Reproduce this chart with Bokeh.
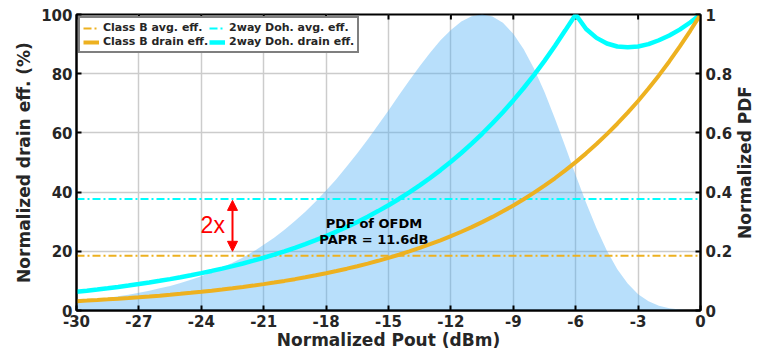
import math
from bokeh.plotting import figure
from bokeh.models import (Range1d, LinearAxis, FixedTicker, Legend, LegendItem,
                          Arrow, NormalHead, Label)
from bokeh.embed import file_html
from bokeh.resources import INLINE

# ---------------- data ----------------
pout_db = [-30, -29.5, -29, -28.5, -28, -27.5, -27, -26.5, -26, -25.5, -25, -24.5,
           -24, -23.5, -23, -22.5, -22, -21.5, -21, -20.5, -20, -19.5, -19, -18.5,
           -18, -17.5, -17, -16.5, -16, -15.5, -15, -14.5, -14, -13.5, -13, -12.5,
           -12, -11.5, -11, -10.5, -10, -9.5, -9, -8.5, -8, -7.5, -7, -6.5,
           -6, -5.5, -5, -4.5, -4, -3.5, -3, -2.5, -2, -1.5, -1, -0.5, 0]

classb_drain_eff = [3.16, 3.35, 3.55, 3.76, 3.98, 4.22, 4.47, 4.73, 5.01, 5.31, 5.62, 5.96,
                    6.31, 6.68, 7.08, 7.50, 7.94, 8.41, 8.91, 9.44, 10.0, 10.59, 11.22, 11.89,
                    12.59, 13.34, 14.13, 14.96, 15.85, 16.79, 17.78, 18.84, 19.95, 21.13, 22.39, 23.71,
                    25.12, 26.61, 28.18, 29.85, 31.62, 33.50, 35.48, 37.58, 39.81, 42.17, 44.67, 47.32,
                    50.12, 53.09, 56.23, 59.57, 63.10, 66.83, 70.79, 74.99, 79.43, 84.14, 89.13, 94.41, 100]

doherty_drain_eff = [6.32, 6.70, 7.10, 7.52, 7.96, 8.43, 8.93, 9.46, 10.02, 10.61, 11.25, 11.91,
                     12.62, 13.37, 14.16, 15.00, 15.89, 16.83, 17.83, 18.88, 20.0, 21.19, 22.44, 23.77,
                     25.18, 26.67, 28.25, 29.93, 31.70, 33.58, 35.57, 37.68, 39.91, 42.27, 44.77, 47.43,
                     50.24, 53.22, 56.37, 59.71, 63.25, 67.0, 70.97, 75.17, 79.62, 84.34, 89.34, 94.64,
                     100, 95.1, 92.1, 90.2, 89.2, 88.9, 89.2, 90.0, 91.3, 92.9, 94.9, 97.3, 100]

ofdm_pdf = [0.030, 0.034, 0.038, 0.042, 0.048, 0.053, 0.060, 0.067, 0.075, 0.083, 0.093, 0.104,
            0.116, 0.130, 0.145, 0.161, 0.179, 0.199, 0.222, 0.246, 0.273, 0.302, 0.334, 0.368,
            0.405, 0.444, 0.487, 0.531, 0.578, 0.627, 0.676, 0.727, 0.777, 0.825, 0.871, 0.913,
            0.948, 0.976, 0.994, 1.0, 0.993, 0.972, 0.935, 0.883, 0.817, 0.738, 0.649, 0.554,
            0.457, 0.364, 0.278, 0.202, 0.139, 0.091, 0.055, 0.031, 0.016, 0.008, 0.003, 0.001, 0.0004]

classb_avg_eff = 18.5
doherty_avg_eff = 37.7

x_ticks = [-30, -27, -24, -21, -18, -15, -12, -9, -6, -3, 0]
x_tick_labels = ["-30", "-27", "-24", "-21", "-18", "-15", "-12", "-9", "-6", "-3", "0"]
y_ticks = [0, 20, 40, 60, 80, 100]
pdf_ticks = [0, 0.2, 0.4, 0.6, 0.8, 1]
pdf_tick_labels = ["0", "0.2", "0.4", "0.6", "0.8", "1"]

legend_labels = ["Class B avg. eff.", "Class B drain eff.",
                 "2way Doh. avg. eff.", "2way Doh. drain eff."]

# ---------------- styles ----------------
ORANGE = "#EDB120"
CYAN = "#00FFFF"
FONT = "DejaVu Sans"
TXT = "#262626"

p = figure(width=757, height=352, output_backend="svg", toolbar_location=None,
           x_range=Range1d(x_ticks[0], x_ticks[-1]), y_range=Range1d(y_ticks[0], y_ticks[-1]),
           min_border_left=76, min_border_right=57, min_border_top=14, min_border_bottom=42,
           background_fill_color="white", border_fill_color="white")
p.extra_y_ranges = {"pdf": Range1d(pdf_ticks[0], pdf_ticks[-1])}
p.outline_line_color = "black"
p.outline_line_width = 2

# grid
for g in (p.xgrid, p.ygrid):
    g.grid_line_color = "#cccccc"
    g.grid_line_width = 1.5
p.xgrid.ticker = FixedTicker(ticks=x_ticks)
p.ygrid.ticker = FixedTicker(ticks=y_ticks)

def style_axis(ax, ticks):
    ax.ticker = FixedTicker(ticks=ticks)
    ax.axis_line_color = "black"
    ax.axis_line_width = 2
    ax.major_tick_line_color = "black"
    ax.major_tick_line_width = 2
    ax.major_tick_in = 5
    ax.major_tick_out = 0
    ax.minor_tick_line_color = None
    ax.major_label_text_font = FONT
    ax.major_label_text_font_style = "bold"
    ax.major_label_text_font_size = "15px"
    ax.major_label_text_color = TXT
    ax.axis_label_text_font = FONT
    ax.axis_label_text_font_style = "bold"
    ax.axis_label_text_font_size = "17px"
    ax.axis_label_text_color = TXT

xa = p.xaxis[0]
style_axis(xa, x_ticks)
xa.axis_label = "Normalized Pout (dBm)"
xa.major_label_overrides = {t: l for t, l in zip(x_ticks, x_tick_labels)}
xa.major_label_standoff = 4
xa.axis_label_standoff = 0

ya = p.yaxis[0]
style_axis(ya, y_ticks)
ya.axis_label = "Normalized drain eff. (%)"
ya.major_label_standoff = 4
ya.axis_label_standoff = 4

ra = LinearAxis(y_range_name="pdf")
style_axis(ra, pdf_ticks)
ra.major_label_overrides = {t: l for t, l in zip(pdf_ticks, pdf_tick_labels)}
ra.major_label_standoff = 5
p.add_layout(ra, "right")

# right-axis title, reading bottom-to-top like the left one, placed in the right side panel
p.add_layout(Label(x=2.16, y=50, text="Normalized PDF", angle=math.pi / 2,
                   text_font=FONT, text_font_style="bold", text_font_size="17px",
                   text_color=TXT, text_align="center", text_baseline="middle"), "right")

# PDF shaded area
p.varea(x=pout_db, y1=[0] * len(ofdm_pdf), y2=ofdm_pdf, y_range_name="pdf",
        fill_color="#4DB0F5", fill_alpha=0.4)

# top-edge inward tick marks (box axes), half of each dash is clipped by the frame
p.scatter(x=x_ticks, y=[y_ticks[-1]] * len(x_ticks), marker="dash", angle=math.pi / 2,
          size=10, line_color="black", line_width=2)

# average efficiency lines
x_span = [pout_db[0], pout_db[-1]]
r_cb_avg = p.line(x_span, [classb_avg_eff, classb_avg_eff], line_color=ORANGE,
                  line_width=2, line_dash="8 3 2 3")
r_dh_avg = p.line(x_span, [doherty_avg_eff, doherty_avg_eff], line_color=CYAN,
                  line_width=2, line_dash="8 3 2 3")

# drain efficiency curves
r_dh = p.line(pout_db, doherty_drain_eff, line_color=CYAN, line_width=4.5)
r_cb = p.line(pout_db, classb_drain_eff, line_color=ORANGE, line_width=4)

# arrow + annotations
p.add_layout(Arrow(x_start=-22.5, y_start=20.0, x_end=-22.5, y_end=37.2,
                   line_color="red", line_width=2,
                   start=NormalHead(size=10, fill_color="red", line_color="red"),
                   end=NormalHead(size=10, fill_color="red", line_color="red")))
p.add_layout(Label(x=-23.45, y=28.8, text="2x", text_color="red",
                   text_font="Liberation Sans", text_font_size="23px",
                   text_align="center", text_baseline="middle"))
p.add_layout(Label(x=-15.7, y=29.5, text="PDF of OFDM", text_color="black",
                   text_font=FONT, text_font_style="bold", text_font_size="13px",
                   text_align="center", text_baseline="middle"))
p.add_layout(Label(x=-15.7, y=23.9, text="PAPR = 11.6dB", text_color="black",
                   text_font=FONT, text_font_style="bold", text_font_size="13px",
                   text_align="center", text_baseline="middle"))

legend = Legend(items=[LegendItem(label=legend_labels[0], renderers=[r_cb_avg]),
                       LegendItem(label=legend_labels[1], renderers=[r_cb]),
                       LegendItem(label=legend_labels[2], renderers=[r_dh_avg]),
                       LegendItem(label=legend_labels[3], renderers=[r_dh])],
                location="top_left", ncols=2,
                label_text_font=FONT, label_text_font_style="bold",
                label_text_font_size="11px", label_text_color=TXT,
                label_height=12, glyph_height=12, glyph_width=16,
                label_standoff=4, spacing=1, padding=3, margin=2,
                border_line_color="black", border_line_width=2,
                background_fill_color="white", background_fill_alpha=1.0)
p.add_layout(legend)

open("out.html", "w").write(file_html(p, INLINE))
